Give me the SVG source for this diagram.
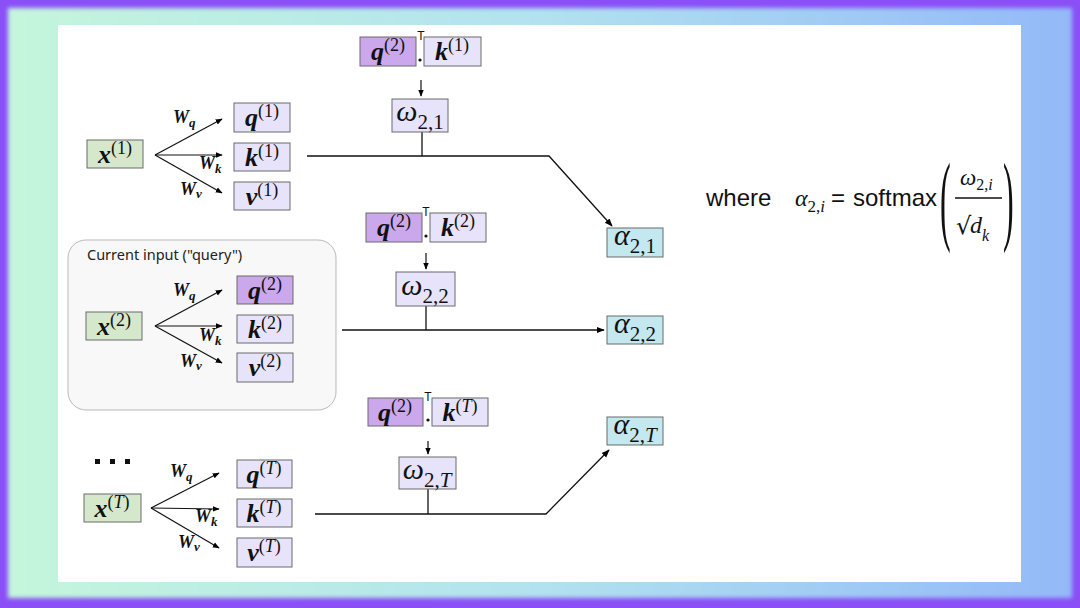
<svg xmlns="http://www.w3.org/2000/svg" width="1080" height="608" viewBox="0 0 1080 608">
<defs>
<linearGradient id="bg" x1="0" y1="0" x2="1" y2="0">
<stop offset="0" stop-color="#c4f6dc"/>
<stop offset="0.5" stop-color="#b2e2ef"/>
<stop offset="1" stop-color="#93b9f8"/>
</linearGradient>
<filter id="soft" x="-5%" y="-5%" width="110%" height="110%"><feGaussianBlur stdDeviation="2"/></filter>
<marker id="ah" viewBox="0 0 10 10" refX="9" refY="5" markerWidth="8" markerHeight="8" markerUnits="userSpaceOnUse" orient="auto">
<path d="M0,1 L10,5 L0,9 z" fill="#000"/>
</marker>
<marker id="ahs" viewBox="0 0 10 10" refX="9" refY="5" markerWidth="7" markerHeight="7" markerUnits="userSpaceOnUse" orient="auto">
<path d="M0,1 L10,5 L0,9 z" fill="#000"/>
</marker>
</defs>
<style>
.box{stroke:#6b6b6b;stroke-width:1}
.gx{fill:#d5e8cc}
.lv{fill:#e7e3fb}
.pq{fill:#cba8ec}
.cy{fill:#c3e8ef}
.lbl{text-anchor:middle;fill:#111}
.m{font-family:"Liberation Serif",serif;font-weight:bold;font-style:italic;font-size:26px}
.s{font-family:"Liberation Serif",serif;font-size:18px}
.it{font-style:italic}
.g{font-family:"Liberation Serif",serif;font-style:italic;font-size:30px}
.sb{font-family:"Liberation Serif",serif;font-size:21px}
.w{font-family:"Liberation Serif",serif;font-weight:bold;font-style:italic;font-size:18px;fill:#111}
.ws{font-family:"Liberation Serif",serif;font-style:italic;font-size:13px}
.t{font-family:"Liberation Sans",sans-serif;font-size:12px;text-anchor:middle;fill:#111}
.ln{stroke:#111;stroke-width:1.3;fill:none}
.ar{stroke:#111;stroke-width:1.3;fill:none;marker-end:url(#ah)}
.ars{stroke:#111;stroke-width:1.2;fill:none;marker-end:url(#ahs)}
.fs{font-family:"Liberation Sans",sans-serif;font-size:24px;fill:#111}
.fm{font-family:"Liberation Serif",serif;font-style:italic;fill:#111}
</style>

<!-- background frame -->
<rect x="0" y="0" width="1080" height="608" fill="#8a4ff6"/>
<rect x="8" y="8" width="1064" height="590" fill="url(#bg)" filter="url(#soft)"/>
<rect x="58" y="25" width="963" height="557" fill="#ffffff"/>

<!-- current input container -->
<g id="current-input">
<rect x="68" y="240" width="268" height="170" rx="18" fill="#f8f8f8" stroke="#b9b9b9" stroke-width="1"/>
<text x="87" y="260" font-family="'Noto Sans','Liberation Sans',sans-serif" font-size="14.5" fill="#222">Current input ("query")</text>
</g>

<!-- connectors -->
<g id="connectors">
<line class="ars" x1="155" y1="155" x2="222" y2="119"/>
<line class="ars" x1="155" y1="155" x2="222" y2="155"/>
<line class="ars" x1="155" y1="155" x2="222" y2="193"/>
<line class="ars" x1="155" y1="326" x2="222" y2="290"/>
<line class="ars" x1="155" y1="326" x2="222" y2="326"/>
<line class="ars" x1="155" y1="326" x2="222" y2="363"/>
<line class="ars" x1="151" y1="508" x2="219" y2="473"/>
<line class="ars" x1="151" y1="508" x2="219" y2="509"/>
<line class="ars" x1="151" y1="508" x2="219" y2="548"/>
<line class="ars" x1="421" y1="80" x2="421" y2="96"/>
<line class="ars" x1="426" y1="253" x2="426" y2="269"/>
<line class="ars" x1="428" y1="441" x2="428" y2="454"/>
<line class="ln" x1="422" y1="132" x2="422" y2="156"/>
<polyline class="ar" points="307,156 549,156 612,226"/>
<line class="ln" x1="426" y1="306" x2="426" y2="330"/>
<line class="ar" x1="342" y1="330" x2="604" y2="330"/>
<line class="ln" x1="428" y1="489" x2="428" y2="514"/>
<polyline class="ar" points="315,514 546,514 609,450"/>
</g>

<!-- row 1 -->
<g id="x1"><rect class="box gx" x="87" y="140" width="56" height="28"/><text class="lbl" x="115" y="163"><tspan class="m">x</tspan><tspan class="s" dy="-9">(1)</tspan></text></g>
<g id="q1"><rect class="box lv" x="234" y="103" width="56" height="29"/><text class="lbl" x="262" y="126"><tspan class="m">q</tspan><tspan class="s" dy="-9">(1)</tspan></text></g>
<g id="k1"><rect class="box lv" x="234" y="143" width="56" height="28"/><text class="lbl" x="262" y="166"><tspan class="m">k</tspan><tspan class="s" dy="-9">(1)</tspan></text></g>
<g id="v1"><rect class="box lv" x="234" y="182" width="56" height="28"/><text class="lbl" x="262" y="205"><tspan class="m">v</tspan><tspan class="s" dy="-9">(1)</tspan></text></g>
<g id="w-labels-1">
<text class="w" x="173" y="123">W<tspan class="ws" dy="4">q</tspan></text>
<text class="w" x="199" y="169">W<tspan class="ws" dy="4">k</tspan></text>
<text class="w" x="180" y="195">W<tspan class="ws" dy="3">v</tspan></text>
</g>

<!-- row 2 -->
<g id="x2"><rect class="box gx" x="86" y="312" width="56" height="28"/><text class="lbl" x="114" y="335"><tspan class="m">x</tspan><tspan class="s" dy="-9">(2)</tspan></text></g>
<g id="q2"><rect class="box pq" x="237" y="276" width="56" height="28"/><text class="lbl" x="265" y="299"><tspan class="m">q</tspan><tspan class="s" dy="-9">(2)</tspan></text></g>
<g id="k2"><rect class="box lv" x="237" y="315" width="56" height="28"/><text class="lbl" x="265" y="338"><tspan class="m">k</tspan><tspan class="s" dy="-9">(2)</tspan></text></g>
<g id="v2"><rect class="box lv" x="237" y="353" width="56" height="29"/><text class="lbl" x="265" y="376"><tspan class="m">v</tspan><tspan class="s" dy="-9">(2)</tspan></text></g>
<g id="w-labels-2">
<text class="w" x="173" y="296">W<tspan class="ws" dy="4">q</tspan></text>
<text class="w" x="199" y="341">W<tspan class="ws" dy="4">k</tspan></text>
<text class="w" x="180" y="367">W<tspan class="ws" dy="3">v</tspan></text>
</g>

<!-- row T -->
<g id="dots">
<rect x="95" y="459" width="5" height="5" fill="#111"/>
<rect x="110" y="459" width="5" height="5" fill="#111"/>
<rect x="125" y="459" width="5" height="5" fill="#111"/>
</g>
<g id="xT"><rect class="box gx" x="84" y="494" width="57" height="28"/><text class="lbl" x="112" y="517"><tspan class="m">x</tspan><tspan class="s" dy="-9">(<tspan class="it">T</tspan>)</tspan></text></g>
<g id="qT"><rect class="box lv" x="237" y="460" width="55" height="28"/><text class="lbl" x="264" y="483"><tspan class="m">q</tspan><tspan class="s" dy="-9">(<tspan class="it">T</tspan>)</tspan></text></g>
<g id="kT"><rect class="box lv" x="237" y="499" width="55" height="28"/><text class="lbl" x="264" y="522"><tspan class="m">k</tspan><tspan class="s" dy="-9">(<tspan class="it">T</tspan>)</tspan></text></g>
<g id="vT"><rect class="box lv" x="237" y="538" width="55" height="29"/><text class="lbl" x="264" y="561"><tspan class="m">v</tspan><tspan class="s" dy="-9">(<tspan class="it">T</tspan>)</tspan></text></g>
<g id="w-labels-T">
<text class="w" x="170" y="477">W<tspan class="ws" dy="4">q</tspan></text>
<text class="w" x="195" y="522">W<tspan class="ws" dy="4">k</tspan></text>
<text class="w" x="178" y="548">W<tspan class="ws" dy="3">v</tspan></text>
</g>

<!-- dot product 1 -->
<g id="dot-1">
<rect class="box pq" x="360" y="37" width="56" height="29"/><text class="lbl" x="388" y="60"><tspan class="m">q</tspan><tspan class="s" dy="-9">(2)</tspan></text>
<text class="t" x="421" y="40">T</text><circle cx="420" cy="60" r="1.6" fill="#111"/>
<rect class="box lv" x="424" y="37" width="57" height="29"/><text class="lbl" x="452" y="60"><tspan class="m">k</tspan><tspan class="s" dy="-9">(1)</tspan></text>
</g>
<g id="omega-21"><rect class="box lv" x="392" y="99" width="56" height="33"/><text class="lbl" x="420" y="121"><tspan class="g">ω</tspan><tspan class="sb" dy="8">2,1</tspan></text></g>

<!-- dot product 2 -->
<g id="dot-2">
<rect class="box pq" x="366" y="213" width="56" height="29"/><text class="lbl" x="394" y="236"><tspan class="m">q</tspan><tspan class="s" dy="-9">(2)</tspan></text>
<text class="t" x="426" y="216">T</text><circle cx="426" cy="236" r="1.6" fill="#111"/>
<rect class="box lv" x="430" y="213" width="56" height="29"/><text class="lbl" x="458" y="236"><tspan class="m">k</tspan><tspan class="s" dy="-9">(2)</tspan></text>
</g>
<g id="omega-22"><rect class="box lv" x="396" y="272" width="59" height="34"/><text class="lbl" x="425" y="295"><tspan class="g">ω</tspan><tspan class="sb" dy="8">2,2</tspan></text></g>

<!-- dot product T -->
<g id="dot-T">
<rect class="box pq" x="368" y="398" width="55" height="28"/><text class="lbl" x="395" y="421"><tspan class="m">q</tspan><tspan class="s" dy="-9">(2)</tspan></text>
<text class="t" x="428" y="401">T</text><circle cx="428" cy="420" r="1.6" fill="#111"/>
<rect class="box lv" x="432" y="398" width="56" height="28"/><text class="lbl" x="460" y="421"><tspan class="m">k</tspan><tspan class="s" dy="-9">(<tspan class="it">T</tspan>)</tspan></text>
</g>
<g id="omega-2T"><rect class="box lv" x="399" y="457" width="57" height="32"/><text class="lbl" x="427" y="479"><tspan class="g">ω</tspan><tspan class="sb" dy="8">2,<tspan class="it">T</tspan></tspan></text></g>

<!-- alphas -->
<g id="alpha-21"><rect class="box cy" x="607" y="228" width="56" height="29"/><text class="lbl" x="635" y="245"><tspan class="g">α</tspan><tspan class="sb" dy="8">2,1</tspan></text></g>
<g id="alpha-22"><rect class="box cy" x="607" y="316" width="56" height="28"/><text class="lbl" x="635" y="333"><tspan class="g">α</tspan><tspan class="sb" dy="8">2,2</tspan></text></g>
<g id="alpha-2T"><rect class="box cy" x="607" y="417" width="56" height="28"/><text class="lbl" x="635" y="434"><tspan class="g">α</tspan><tspan class="sb" dy="8">2,<tspan class="it">T</tspan></tspan></text></g>

<!-- formula -->
<g id="formula">
<text class="fs" x="706" y="206">where</text>
<text class="fm" x="795" y="206" font-size="24">α<tspan font-size="17" dy="6" font-style="normal">2,<tspan font-style="italic">i</tspan></tspan></text>
<text class="fs" x="831" y="206" font-size="26">=</text>
<text class="fs" x="853" y="206">softmax</text>
<text transform="translate(940,232) scale(1,3.1)" font-family="'Liberation Serif',serif" font-size="32" fill="#111">(</text>
<text class="fm" x="960" y="185" font-size="23">ω<tspan font-size="16" dy="5" font-style="normal">2,<tspan font-style="italic">i</tspan></tspan></text>
<line x1="955" y1="198" x2="1002" y2="198" stroke="#111" stroke-width="1.3"/>
<text x="956" y="234" font-family="'DejaVu Sans',sans-serif" font-size="24" fill="#111">√</text>
<text class="fm" x="970" y="233" font-size="24">d<tspan font-size="16" dy="8">k</tspan></text>
<text transform="translate(1003,232) scale(1,3.1)" font-family="'Liberation Serif',serif" font-size="32" fill="#111">)</text>
</g>
</svg>
